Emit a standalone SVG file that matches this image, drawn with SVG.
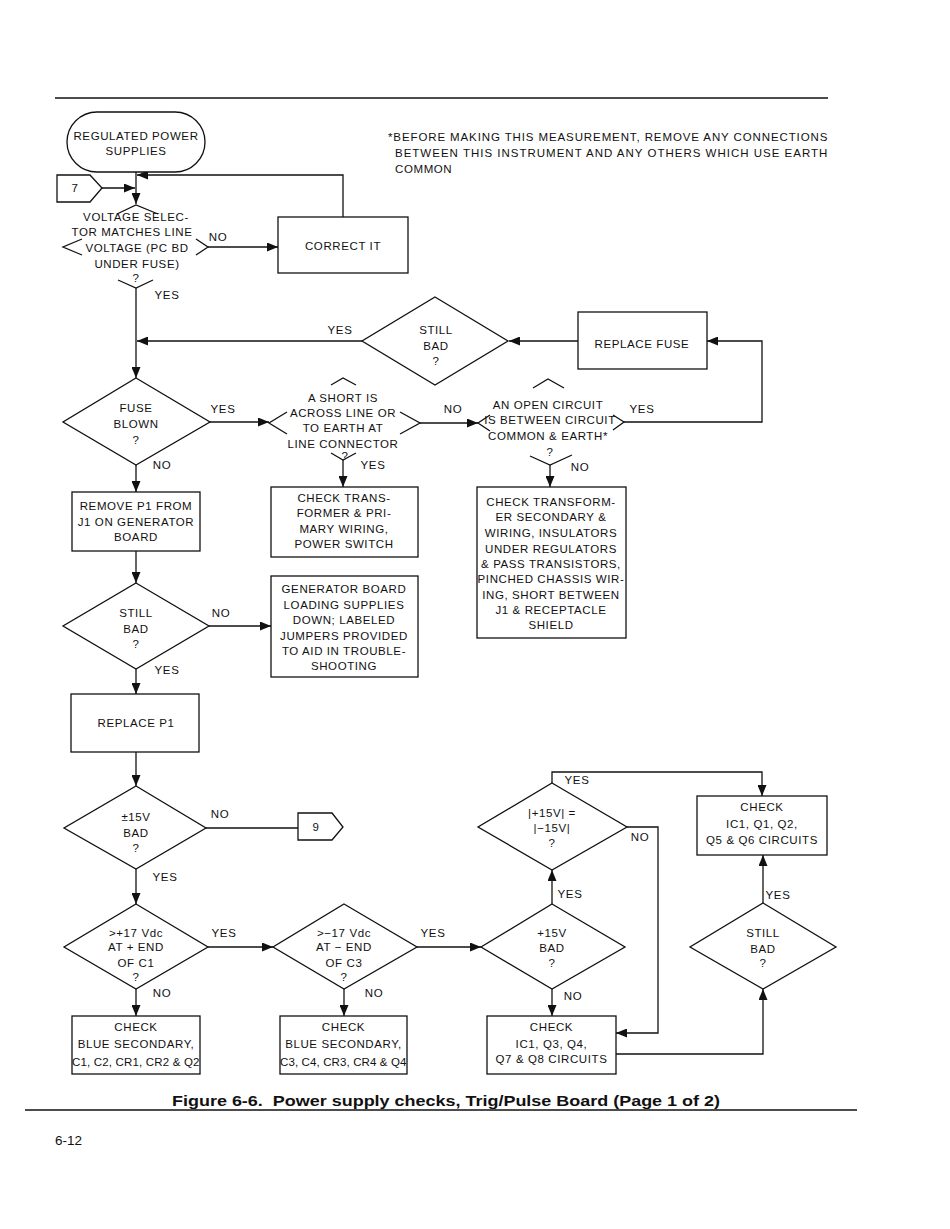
<svg xmlns="http://www.w3.org/2000/svg" width="950" height="1229" viewBox="0 0 950 1229">
<style>
.t{font-family:"Liberation Sans",Arial,sans-serif;font-size:11.5px;letter-spacing:0.6px;fill:#111;text-anchor:middle}
.l{font-family:"Liberation Sans",Arial,sans-serif;font-size:11.5px;letter-spacing:0.6px;fill:#111}
.s{fill:#fff;stroke:#111;stroke-width:1.3}
.o{fill:none;stroke:#111;stroke-width:1.3}
.c{fill:none;stroke:#111;stroke-width:1.3}
</style>
<defs>
<marker id="a" markerUnits="userSpaceOnUse" markerWidth="11" markerHeight="9" refX="11" refY="4.5" orient="auto">
<path d="M0,0 L11,4.5 L0,9 z" fill="#111"/>
</marker>
</defs>
<rect width="950" height="1229" fill="#fff"/>
<line x1="55" y1="98" x2="828" y2="98" stroke="#111" stroke-width="1.5"/>

<g id="note">
<text class="l" x="388" y="141" textLength="440" lengthAdjust="spacing">*BEFORE MAKING THIS MEASUREMENT, REMOVE ANY CONNECTIONS</text>
<text class="l" x="395" y="157" textLength="433" lengthAdjust="spacing">BETWEEN THIS INSTRUMENT AND ANY OTHERS WHICH USE EARTH</text>
<text class="l" x="395" y="173">COMMON</text>
</g>

<g id="connectors">
<path class="c" d="M136,172 V204" marker-end="url(#a)"/>
<path class="c" d="M102,188 H135" marker-end="url(#a)"/>
<path class="c" d="M343,217 V175 H137" marker-end="url(#a)"/>
<path class="c" d="M208,247 H278" marker-end="url(#a)"/>
<path class="c" d="M136,288 V378" marker-end="url(#a)"/>
<path class="c" d="M362,341 H137" marker-end="url(#a)"/>
<path class="c" d="M578,341 H509" marker-end="url(#a)"/>
<path class="c" d="M624,422 H762 V341 H707" marker-end="url(#a)"/>
<path class="c" d="M210,422 H269" marker-end="url(#a)"/>
<path class="c" d="M420,423 H478" marker-end="url(#a)"/>
<path class="c" d="M343,460 V487" marker-end="url(#a)"/>
<path class="c" d="M550,465 V487" marker-end="url(#a)"/>
<path class="c" d="M136,465 V492" marker-end="url(#a)"/>
<path class="c" d="M136,551 V583" marker-end="url(#a)"/>
<path class="c" d="M209,626 H271" marker-end="url(#a)"/>
<path class="c" d="M136,669 V694" marker-end="url(#a)"/>
<path class="c" d="M136,752 V786" marker-end="url(#a)"/>
<path class="c" d="M206,828 H298"/>
<path class="c" d="M136,869 V904" marker-end="url(#a)"/>
<path class="c" d="M208,947 H273" marker-end="url(#a)"/>
<path class="c" d="M417,947 H481" marker-end="url(#a)"/>
<path class="c" d="M136,989 V1016" marker-end="url(#a)"/>
<path class="c" d="M344,989 V1016" marker-end="url(#a)"/>
<path class="c" d="M552,989 V1016" marker-end="url(#a)"/>
<path class="c" d="M552,904 V870" marker-end="url(#a)"/>
<path class="c" d="M627,827 H658 V1033 H616" marker-end="url(#a)"/>
<path class="c" d="M552,783 V772 H762 V796" marker-end="url(#a)"/>
<path class="c" d="M763,903 V855" marker-end="url(#a)"/>
<path class="c" d="M616,1054 H763 V989" marker-end="url(#a)"/>
</g>

<g id="labels">
<text class="t" x="218" y="241">NO</text>
<text class="t" x="167" y="299">YES</text>
<text class="t" x="340" y="334">YES</text>
<text class="t" x="223" y="413">YES</text>
<text class="t" x="453" y="413">NO</text>
<text class="t" x="642" y="413">YES</text>
<text class="t" x="162" y="469">NO</text>
<text class="t" x="373" y="469">YES</text>
<text class="t" x="580" y="471">NO</text>
<text class="t" x="221" y="617">NO</text>
<text class="t" x="167" y="674">YES</text>
<text class="t" x="220" y="818">NO</text>
<text class="t" x="165" y="881">YES</text>
<text class="t" x="224" y="937">YES</text>
<text class="t" x="433" y="937">YES</text>
<text class="t" x="162" y="997">NO</text>
<text class="t" x="374" y="997">NO</text>
<text class="t" x="573" y="1000">NO</text>
<text class="t" x="570" y="898">YES</text>
<text class="t" x="577" y="784">YES</text>
<text class="t" x="640" y="841">NO</text>
<text class="t" x="778" y="899">YES</text>
</g>

<g id="start">
<rect class="s" x="67" y="112" width="138" height="60" rx="30" ry="30"/>
<text class="t" x="136" y="140">REGULATED POWER</text>
<text class="t" x="136" y="155">SUPPLIES</text>
</g>

<g id="conn7">
<polygon class="s" points="57,175 90,175 102,188 90,202 57,202"/>
<text class="t" x="75" y="192">7</text>
</g>

<g id="voltage-selector">
<path class="o" d="M117,214 L136,205 L158,214 M82,239 L63,247 L82,255 M196,239 L208,247 L196,255 M118,280 L136,288 L153,280"/>
<text class="t" x="136" y="221">VOLTAGE SELEC-</text>
<text class="t" x="132" y="236">TOR MATCHES LINE</text>
<text class="t" x="137" y="252">VOLTAGE (PC BD</text>
<text class="t" x="137" y="268">UNDER FUSE)</text>
<text class="t" x="136" y="282">?</text>
</g>

<g id="correct-it">
<rect class="s" x="278" y="217" width="130" height="56"/>
<text class="t" x="343" y="250">CORRECT IT</text>
</g>

<g id="still-bad-1">
<polygon class="s" points="435,297 508,341 435,385 362,341"/>
<text class="t" x="436" y="334">STILL</text>
<text class="t" x="436" y="350">BAD</text>
<text class="t" x="436" y="365">?</text>
</g>

<g id="replace-fuse">
<rect class="s" x="578" y="312" width="129" height="57"/>
<text class="t" x="642" y="348">REPLACE FUSE</text>
</g>

<g id="fuse-blown">
<polygon class="s" points="136,378 210,422 136,465 63,422"/>
<text class="t" x="136" y="412">FUSE</text>
<text class="t" x="136" y="428">BLOWN</text>
<text class="t" x="136" y="444">?</text>
</g>

<g id="short-check">
<path class="o" d="M331,385 L343,378 L356,385 M287,412 L269,423 L287,434 M400,412 L420,423 L400,434 M331,453 L343,460 L356,453"/>
<text class="t" x="343" y="402">A SHORT IS</text>
<text class="t" x="343" y="417">ACROSS LINE OR</text>
<text class="t" x="343" y="432">TO EARTH AT</text>
<text class="t" x="343" y="448">LINE CONNECTOR</text>
<text class="t" x="345" y="460">?</text>
</g>

<g id="open-check">
<path class="o" d="M533,388 L548,379 L564,388 M490,415 L478,423 L490,431 M613,415 L624,422 L613,430 M530,456 L550,465 L572,455"/>
<text class="t" x="548" y="409">AN OPEN CIRCUIT</text>
<text class="t" x="550" y="424">IS BETWEEN CIRCUIT</text>
<text class="t" x="548" y="440">COMMON &amp; EARTH*</text>
<text class="t" x="550" y="456">?</text>
</g>

<g id="remove-p1">
<rect class="s" x="72" y="492" width="128" height="59"/>
<text class="t" x="136" y="510">REMOVE P1 FROM</text>
<text class="t" x="136" y="526">J1 ON GENERATOR</text>
<text class="t" x="136" y="541">BOARD</text>
</g>

<g id="check-trans">
<rect class="s" x="271" y="487" width="147" height="70"/>
<text class="t" x="344" y="502">CHECK TRANS-</text>
<text class="t" x="344" y="517">FORMER &amp; PRI-</text>
<text class="t" x="344" y="533">MARY WIRING,</text>
<text class="t" x="344" y="548">POWER SWITCH</text>
</g>

<g id="check-transformer">
<rect class="s" x="477" y="487" width="149" height="151"/>
<text class="t" x="551" y="506">CHECK TRANSFORM-</text>
<text class="t" x="551" y="521">ER SECONDARY &amp;</text>
<text class="t" x="551" y="537">WIRING, INSULATORS</text>
<text class="t" x="551" y="553">UNDER REGULATORS</text>
<text class="t" x="551" y="568">&amp; PASS TRANSISTORS,</text>
<text class="t" x="551" y="583">PINCHED CHASSIS WIR-</text>
<text class="t" x="551" y="599">ING, SHORT BETWEEN</text>
<text class="t" x="551" y="614">J1 &amp; RECEPTACLE</text>
<text class="t" x="551" y="629">SHIELD</text>
</g>

<g id="still-bad-2">
<polygon class="s" points="136,583 209,626 136,669 63,626"/>
<text class="t" x="136" y="617">STILL</text>
<text class="t" x="136" y="633">BAD</text>
<text class="t" x="136" y="648">?</text>
</g>

<g id="generator-board">
<rect class="s" x="271" y="576" width="147" height="101"/>
<text class="t" x="344" y="593">GENERATOR BOARD</text>
<text class="t" x="344" y="609">LOADING SUPPLIES</text>
<text class="t" x="344" y="624">DOWN; LABELED</text>
<text class="t" x="344" y="640">JUMPERS PROVIDED</text>
<text class="t" x="344" y="655">TO AID IN TROUBLE-</text>
<text class="t" x="344" y="670">SHOOTING</text>
</g>

<g id="replace-p1">
<rect class="s" x="71" y="694" width="128" height="58"/>
<text class="t" x="136" y="727">REPLACE P1</text>
</g>

<g id="pm15-bad">
<polygon class="s" points="136,786 206,828 136,869 64,828"/>
<text class="t" x="136" y="821">±15V</text>
<text class="t" x="136" y="837">BAD</text>
<text class="t" x="136" y="852">?</text>
</g>

<g id="conn9">
<polygon class="s" points="298,813 332,813 343,827 332,840 298,840"/>
<text class="t" x="316" y="831">9</text>
</g>

<g id="p17">
<polygon class="s" points="136,904 208,947 136,989 64,947"/>
<text class="t" x="136" y="937">&gt;+17 Vdc</text>
<text class="t" x="136" y="951">AT + END</text>
<text class="t" x="136" y="967">OF C1</text>
<text class="t" x="136" y="981">?</text>
</g>

<g id="m17">
<polygon class="s" points="344,904 417,947 344,989 273,947"/>
<text class="t" x="344" y="937">&gt;−17 Vdc</text>
<text class="t" x="344" y="951">AT − END</text>
<text class="t" x="344" y="967">OF C3</text>
<text class="t" x="344" y="981">?</text>
</g>

<g id="p15-bad">
<polygon class="s" points="552,904 625,947 552,989 481,947"/>
<text class="t" x="552" y="937">+15V</text>
<text class="t" x="552" y="952">BAD</text>
<text class="t" x="552" y="967">?</text>
</g>

<g id="abs-equal">
<polygon class="s" points="552,783 627,827 552,870 478,827"/>
<text class="t" x="552" y="817">|+15V| =</text>
<text class="t" x="552" y="832">|−15V|</text>
<text class="t" x="552" y="847">?</text>
</g>

<g id="check-q5">
<rect class="s" x="697" y="796" width="130" height="59"/>
<text class="t" x="762" y="811">CHECK</text>
<text class="t" x="762" y="828">IC1, Q1, Q2,</text>
<text class="t" x="762" y="844">Q5 &amp; Q6 CIRCUITS</text>
</g>

<g id="still-bad-3">
<polygon class="s" points="763,903 836,947 763,989 690,947"/>
<text class="t" x="763" y="937">STILL</text>
<text class="t" x="763" y="953">BAD</text>
<text class="t" x="763" y="967">?</text>
</g>

<g id="check-c1">
<rect class="s" x="72" y="1016" width="128" height="58"/>
<text class="t" x="136" y="1031">CHECK</text>
<text class="t" x="136" y="1048">BLUE SECONDARY,</text>
<text class="t" x="136" y="1066" textLength="128" lengthAdjust="spacing">C1, C2, CR1, CR2 &amp; Q2</text>
</g>

<g id="check-c3">
<rect class="s" x="280" y="1016" width="127" height="58"/>
<text class="t" x="343.5" y="1031">CHECK</text>
<text class="t" x="343.5" y="1048">BLUE SECONDARY,</text>
<text class="t" x="343.5" y="1066" textLength="127" lengthAdjust="spacing">C3, C4, CR3, CR4 &amp; Q4</text>
</g>

<g id="check-q7">
<rect class="s" x="487" y="1016" width="129" height="58"/>
<text class="t" x="551.5" y="1031">CHECK</text>
<text class="t" x="551.5" y="1048">IC1, Q3, Q4,</text>
<text class="t" x="551.5" y="1063">Q7 &amp; Q8 CIRCUITS</text>
</g>

<g id="caption">
<line x1="25" y1="1110" x2="857" y2="1110" stroke="#111" stroke-width="1.6"/>
<text x="172" y="1106" font-family="'Liberation Sans',Arial,sans-serif" font-weight="bold" font-size="15" textLength="548" lengthAdjust="spacingAndGlyphs" fill="#111">Figure 6-6.&#160; Power supply checks, Trig/Pulse Board (Page 1 of 2)</text>
<text x="55" y="1145" font-family="'Liberation Sans',Arial,sans-serif" font-size="12.5" textLength="27" lengthAdjust="spacingAndGlyphs" fill="#111">6-12</text>
</g>
</svg>
